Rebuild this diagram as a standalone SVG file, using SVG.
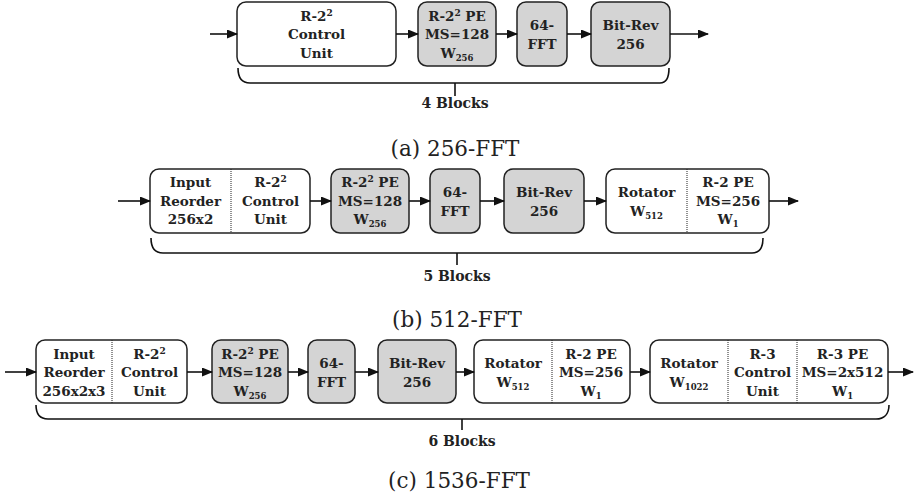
<svg xmlns="http://www.w3.org/2000/svg" width="918" height="500" viewBox="0 0 918 500">
<style>
.b{stroke:#222;stroke-width:1.5;fill:#fff}
.g{stroke:#222;stroke-width:1.5;fill:#d4d4d4}
.d{stroke:#222;stroke-width:1;stroke-dasharray:1 1;fill:none}
.c{stroke:#111;stroke-width:1.6;fill:none}
.t{font-family:"DejaVu Serif","Liberation Serif",serif;font-weight:bold;font-size:13.5px;fill:#222;text-anchor:middle}
.bl{font-size:14px}
.cap{font-family:"DejaVu Serif","Liberation Serif",serif;font-size:21.5px;fill:#222;text-anchor:middle}
.sub{font-size:8.5px}
.sup{font-size:9px}
</style>
<defs>
<marker id="ah" markerUnits="userSpaceOnUse" markerWidth="11" markerHeight="9" refX="10" refY="4.5" orient="auto">
<path d="M0,0 L11,4.5 L0,9 z" fill="#111"/>
</marker>
</defs>

<!-- Row (a) -->
<g id="a-ctrl"><rect class="b" x="237" y="2" width="159" height="64" rx="9"/>
<text class="t" x="316.5" y="20.5">R-2<tspan class="sup" dy="-5">2</tspan></text>
<text class="t" x="316.5" y="39">Control</text>
<text class="t" x="316.5" y="57.5">Unit</text></g>
<g id="a-pe"><rect class="g" x="418" y="2" width="78" height="64" rx="9"/>
<text class="t" x="457" y="20.5">R-2<tspan class="sup" dy="-5">2</tspan><tspan dy="5"> PE</tspan></text>
<text class="t" x="457" y="39">MS=128</text>
<text class="t" x="457" y="57.5">W<tspan class="sub" dy="3">256</tspan></text></g>
<g id="a-fft"><rect class="g" x="517" y="2" width="50" height="64" rx="9"/>
<text class="t" x="542" y="29.5">64-</text>
<text class="t" x="542" y="48.5">FFT</text></g>
<g id="a-br"><rect class="g" x="591" y="2" width="79" height="64" rx="9"/>
<text class="t" x="630.5" y="29.5">Bit-Rev</text>
<text class="t" x="630.5" y="48.5">256</text></g>
<text class="t bl" x="455" y="108">4 Blocks</text>
<text class="cap" x="455" y="156">(a) 256-FFT</text>

<!-- Row (b) -->
<g id="b-in"><rect class="b" x="150" y="169" width="160" height="64" rx="9"/>
<line class="d" x1="231" y1="169" x2="231" y2="233"/>
<text class="t" x="190.5" y="187">Input</text>
<text class="t" x="190.5" y="205.5">Reorder</text>
<text class="t" x="190.5" y="224">256x2</text>
<text class="t" x="270.5" y="187">R-2<tspan class="sup" dy="-5">2</tspan></text>
<text class="t" x="270.5" y="205.5">Control</text>
<text class="t" x="270.5" y="224">Unit</text></g>
<g id="b-pe"><rect class="g" x="331" y="169" width="78" height="64" rx="9"/>
<text class="t" x="370" y="187">R-2<tspan class="sup" dy="-5">2</tspan><tspan dy="5"> PE</tspan></text>
<text class="t" x="370" y="205.5">MS=128</text>
<text class="t" x="370" y="224">W<tspan class="sub" dy="3">256</tspan></text></g>
<g id="b-fft"><rect class="g" x="430" y="169" width="50" height="64" rx="9"/>
<text class="t" x="455" y="196.5">64-</text>
<text class="t" x="455" y="215.5">FFT</text></g>
<g id="b-br"><rect class="g" x="504" y="169" width="80" height="64" rx="9"/>
<text class="t" x="544" y="196.5">Bit-Rev</text>
<text class="t" x="544" y="215.5">256</text></g>
<g id="b-rot"><rect class="b" x="606" y="169" width="163" height="64" rx="9"/>
<line class="d" x1="687" y1="169" x2="687" y2="233"/>
<text class="t" x="646.5" y="196.5">Rotator</text>
<text class="t" x="646.5" y="215.5">W<tspan class="sub" dy="3">512</tspan></text>
<text class="t" x="728" y="187">R-2 PE</text>
<text class="t" x="728" y="205.5">MS=256</text>
<text class="t" x="728" y="224">W<tspan class="sub" dy="3">1</tspan></text></g>
<text class="t bl" x="457" y="281">5 Blocks</text>
<text class="cap" x="457" y="327">(b) 512-FFT</text>

<!-- Row (c) -->
<g id="c-in"><rect class="b" x="36" y="340" width="151" height="63" rx="9"/>
<line class="d" x1="112" y1="340" x2="112" y2="403"/>
<text class="t" x="74" y="358.5">Input</text>
<text class="t" x="74" y="377">Reorder</text>
<text class="t" x="74" y="395.5">256x2x3</text>
<text class="t" x="149.5" y="358.5">R-2<tspan class="sup" dy="-5">2</tspan></text>
<text class="t" x="149.5" y="377">Control</text>
<text class="t" x="149.5" y="395.5">Unit</text></g>
<g id="c-pe"><rect class="g" x="212" y="340" width="76" height="63" rx="9"/>
<text class="t" x="250" y="358.5">R-2<tspan class="sup" dy="-5">2</tspan><tspan dy="5"> PE</tspan></text>
<text class="t" x="250" y="377">MS=128</text>
<text class="t" x="250" y="395.5">W<tspan class="sub" dy="3">256</tspan></text></g>
<g id="c-fft"><rect class="g" x="308" y="340" width="47" height="63" rx="9"/>
<text class="t" x="331.5" y="367.5">64-</text>
<text class="t" x="331.5" y="386.5">FFT</text></g>
<g id="c-br"><rect class="g" x="378" y="340" width="78" height="63" rx="9"/>
<text class="t" x="417" y="367.5">Bit-Rev</text>
<text class="t" x="417" y="386.5">256</text></g>
<g id="c-rot"><rect class="b" x="474" y="340" width="156" height="63" rx="9"/>
<line class="d" x1="552" y1="340" x2="552" y2="403"/>
<text class="t" x="513" y="367.5">Rotator</text>
<text class="t" x="513" y="386.5">W<tspan class="sub" dy="3">512</tspan></text>
<text class="t" x="591" y="358.5">R-2 PE</text>
<text class="t" x="591" y="377">MS=256</text>
<text class="t" x="591" y="395.5">W<tspan class="sub" dy="3">1</tspan></text></g>
<g id="c-rot3"><rect class="b" x="650" y="340" width="238" height="63" rx="9"/>
<line class="d" x1="728" y1="340" x2="728" y2="403"/>
<line class="d" x1="797" y1="340" x2="797" y2="403"/>
<text class="t" x="689" y="367.5">Rotator</text>
<text class="t" x="689" y="386.5">W<tspan class="sub" dy="3">1022</tspan></text>
<text class="t" x="762.5" y="358.5">R-3</text>
<text class="t" x="762.5" y="377">Control</text>
<text class="t" x="762.5" y="395.5">Unit</text>
<text class="t" x="842.5" y="358.5">R-3 PE</text>
<text class="t" x="842.5" y="377">MS=2x512</text>
<text class="t" x="842.5" y="395.5">W<tspan class="sub" dy="3">1</tspan></text></g>
<text class="t bl" x="462" y="446">6 Blocks</text>
<text class="cap" x="459" y="488">(c) 1536-FFT</text>

<g id="connectors">
<line class="c" x1="210" y1="34" x2="237" y2="34" marker-end="url(#ah)"/>
<line class="c" x1="396" y1="34" x2="418" y2="34" marker-end="url(#ah)"/>
<line class="c" x1="496" y1="34" x2="517" y2="34" marker-end="url(#ah)"/>
<line class="c" x1="567" y1="34" x2="591" y2="34" marker-end="url(#ah)"/>
<line class="c" x1="670" y1="34" x2="708" y2="34" marker-end="url(#ah)"/>
<path class="c" d="M238,68 C238,78 242,83 250,83 L660,83 C666,83 669,78 669,68"/>
<line class="c" x1="455" y1="83" x2="455" y2="96"/>

<line class="c" x1="118" y1="201" x2="150" y2="201" marker-end="url(#ah)"/>
<line class="c" x1="310" y1="201" x2="331" y2="201" marker-end="url(#ah)"/>
<line class="c" x1="409" y1="201" x2="430" y2="201" marker-end="url(#ah)"/>
<line class="c" x1="480" y1="201" x2="504" y2="201" marker-end="url(#ah)"/>
<line class="c" x1="584" y1="201" x2="606" y2="201" marker-end="url(#ah)"/>
<line class="c" x1="769" y1="201" x2="798" y2="201" marker-end="url(#ah)"/>
<path class="c" d="M151,238 C151,248 155,253 163,253 L752,253 C759,253 763,248 763,238"/>
<line class="c" x1="457" y1="253" x2="457" y2="265"/>

<line class="c" x1="5" y1="372" x2="36" y2="372" marker-end="url(#ah)"/>
<line class="c" x1="187" y1="372" x2="212" y2="372" marker-end="url(#ah)"/>
<line class="c" x1="288" y1="372" x2="308" y2="372" marker-end="url(#ah)"/>
<line class="c" x1="355" y1="372" x2="378" y2="372" marker-end="url(#ah)"/>
<line class="c" x1="456" y1="372" x2="474" y2="372" marker-end="url(#ah)"/>
<line class="c" x1="630" y1="372" x2="650" y2="372" marker-end="url(#ah)"/>
<line class="c" x1="888" y1="372" x2="913" y2="372" marker-end="url(#ah)"/>
<path class="c" d="M36,405 C36,414 40,419 48,419 L876,419 C884,419 889,414 889,405"/>
<line class="c" x1="462" y1="419" x2="462" y2="430"/>
</g>
</svg>
